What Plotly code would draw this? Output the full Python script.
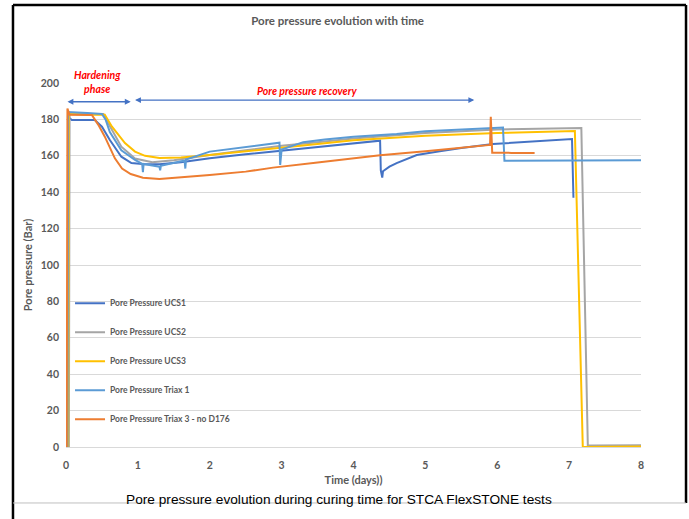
import plotly.graph_objects as go

# ---- data ----
ucs1_x = [0.03, 0.04, 0.08, 0.3, 0.4, 0.5, 0.61, 0.77, 0.91, 1.1, 1.3, 1.6, 2.0, 2.5, 2.88, 3.0, 3.5, 4.0, 4.37,
          4.38, 4.40, 4.41, 4.5, 4.6, 4.88, 5.2, 5.5, 5.94, 6.3, 6.73, 7.04, 7.06]
ucs1_y = [0, 181, 179.7, 179.7, 179.7, 176, 168.7, 159.5, 156, 155.3, 155.3, 156.5, 158.6, 160.8, 162.3, 162.8, 165, 167, 168.3,
          152, 148, 151.5, 154, 156, 160.4, 162.5, 164.3, 166.5, 167.5, 168.3, 169.2, 137]

ucs2_x = [0.04, 0.05, 0.3, 0.52, 0.6, 0.77, 0.96, 1.2, 1.5, 2.0, 2.5, 3.0, 3.5, 4.0, 5.0, 6.0, 7.17, 7.26, 7.3, 8.0]
ucs2_y = [0, 183, 183, 183, 177, 165, 158.5, 156.5, 157.5, 160.5, 163, 165.5, 167.5, 169.5, 172.5, 174.5, 175.3, 1, 0.8, 1]

ucs3_x = [0.03, 0.04, 0.3, 0.54, 0.64, 0.77, 0.8, 0.82, 0.96, 1.1, 1.3, 1.6, 2.0, 2.5, 2.88, 3.5, 4.0, 5.0, 6.0, 7.08,
          7.19, 8.0]
ucs3_y = [0, 183, 182.5, 182.5, 176, 169.6, 168.5, 167, 162.3, 160, 158.8, 159, 160.4, 162.3, 164, 166.5, 168.5, 171, 172.5, 173.6,
          0, 0.3]

triax1_x = [0.02, 0.03, 0.3, 0.5, 0.55, 0.61, 0.77, 0.96, 1.06, 1.07, 1.08, 1.2, 1.3, 1.31, 1.32, 1.6, 1.65, 1.66, 1.67,
            2.0, 2.5, 2.97, 2.98, 3.0, 3.3, 3.6, 4.0, 4.6, 5.0, 5.5, 6.08, 6.1, 7.0, 8.0]
triax1_y = [0, 184, 183.5, 183, 180, 173, 163, 157.7, 155.5, 151, 155.5, 154.5, 154, 152, 154.5, 157, 157.3, 153, 158,
            162.3, 164.8, 167.2, 155, 163.5, 167.5, 169, 170.5, 172, 173.5, 174.5, 175.5, 157.3, 157.5, 157.5]

triax3_x = [0.01, 0.02, 0.05, 0.2, 0.36, 0.45, 0.54, 0.68, 0.78, 0.9, 1.07, 1.3, 1.5, 2.0, 2.5, 2.88, 3.5, 4.0, 4.37, 5.0,
            5.5, 5.9, 5.91, 5.93, 6.2, 6.52]
triax3_y = [0, 186, 182.5, 182.4, 182.4, 177, 170.5, 158.6, 153, 150, 148, 147.2, 147.8, 149.4, 151.3, 153.5, 156.3, 158.6, 160.3, 162.5,
            164.5, 166, 181.5, 161.7, 161.6, 161.5]

series_names = ["Pore Pressure UCS1", "Pore Pressure UCS2", "Pore Pressure UCS3",
                "Pore Pressure Triax 1", "Pore Pressure Triax 3 - no D176"]
series_colors = ["#4472C4", "#A5A5A5", "#FFC000", "#5B9BD5", "#ED7D31"]

x_ticks = [0, 1, 2, 3, 4, 5, 6, 7, 8]
y_ticks = [0, 20, 40, 60, 80, 100, 120, 140, 160, 180, 200]

FONT = "Lato"
GREY = "#595959"

fig = go.Figure()
all_x = [ucs1_x, ucs2_x, ucs3_x, triax1_x, triax3_x]
all_y = [ucs1_y, ucs2_y, ucs3_y, triax1_y, triax3_y]
for i, (xs, ys) in enumerate(zip(all_x, all_y)):
    fig.add_trace(go.Scatter(
        x=xs, y=ys, mode="lines", name=series_names[i],
        line=dict(color=series_colors[i], width=2),
        legendgroup=f"g{i}",
    ))

# phase arrows
arrows = [(0.0, 0.9, 189.7), (0.94, 5.68, 190.6)]
for x0, x1, yy in arrows:
    fig.add_annotation(x=x1, y=yy, ax=x0, ay=yy, xref="x", yref="y", axref="x", ayref="y",
                       text="", showarrow=True, arrowhead=2, startarrowhead=2, arrowside="end+start",
                       arrowsize=0.9, arrowwidth=1.3, arrowcolor="#4472C4", startarrowsize=0.9)

fig.add_annotation(x=0.055, y=1.003, xref="paper", yref="paper", text="Hardening<br>phase", showarrow=False,
                   font=dict(family=FONT, size=10.5, color="#FF0000", style="italic", weight="bold"),
                   align="center", xanchor="center", yanchor="middle")
fig.add_annotation(x=0.4184, y=0.978, xref="paper", yref="paper", text="Pore pressure recovery", showarrow=False,
                   font=dict(family=FONT, size=10.5, color="#FF0000", style="italic", weight="bold"),
                   xanchor="center", yanchor="middle")

# caption
fig.add_annotation(x=0.475, y=-0.1703, xref="paper", yref="paper",
                   text="Pore pressure evolution during curing time for STCA FlexSTONE tests",
                   showarrow=False, font=dict(family="Liberation Sans", size=13.7, color="#000000"))

# frame lines
fig.add_shape(type="line", xref="paper", yref="paper", x0=-0.0922, x1=1.0783, y0=1.2143, y1=1.2143,
              line=dict(color="#000000", width=2.5))
fig.add_shape(type="line", xref="paper", yref="paper", x0=-0.0922, x1=-0.0922, y0=1.2143, y1=-0.2,
              line=dict(color="#000000", width=2.5))
fig.add_shape(type="line", xref="paper", yref="paper", x0=1.0783, x1=1.0783, y0=1.2143, y1=-0.1538,
              line=dict(color="#000000", width=2.5))
fig.add_shape(type="line", xref="paper", yref="paper", x0=-0.0922, x1=1.0783, y0=-0.1538, y1=-0.1538,
              line=dict(color="#BFBFBF", width=1))

fig.update_layout(
    width=689, height=519,
    margin=dict(l=66, r=48, t=83, b=72),
    paper_bgcolor="white", plot_bgcolor="white",
    title=dict(text="Pore pressure evolution with time", x=0.49, xanchor="center", y=0.96, yanchor="middle",
               font=dict(family=FONT, size=11.5, color=GREY, weight="bold")),
    showlegend=True,
    legend=dict(x=0.007, y=0.435, xanchor="left", yanchor="top", bgcolor="rgba(0,0,0,0)",
                font=dict(family=FONT, size=8.5, color=GREY, weight="bold"),
                traceorder="grouped", tracegroupgap=10, itemwidth=30),
    xaxis=dict(range=[0, 8], tickvals=x_ticks, showgrid=False, zeroline=False,
               showline=True, linecolor="#D9D9D9", linewidth=1, ticks="",
               ticklabelstandoff=8,
               tickfont=dict(family=FONT, size=10.5, color=GREY, weight="bold"),
               title=dict(text="Time (days))", standoff=6,
                          font=dict(family=FONT, size=11, color=GREY, weight="bold"))),
    yaxis=dict(range=[0, 200], tickvals=y_ticks, showgrid=True, gridcolor="#D9D9D9", gridwidth=1,
               zeroline=False, showline=False, ticks="", ticklabelstandoff=6,
               tickfont=dict(family=FONT, size=10.5, color=GREY, weight="bold"),
               title=dict(text="Pore pressure (Bar)", standoff=5,
                          font=dict(family=FONT, size=11, color=GREY, weight="bold"))),
)

fig.write_html("out.html", config={"displayModeBar": False},
               post_script="document.body.style.margin='0';")
